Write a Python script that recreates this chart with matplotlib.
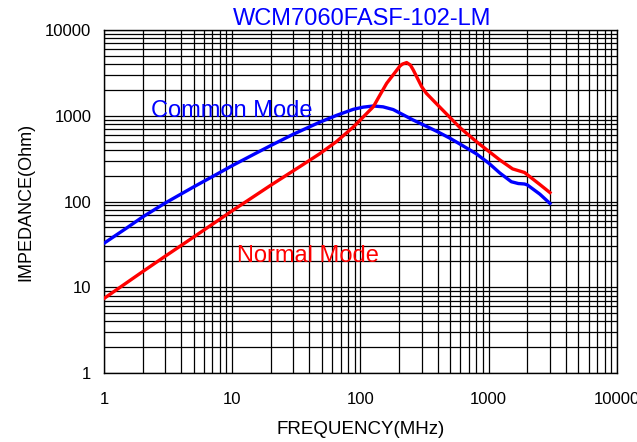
import matplotlib
matplotlib.use("Agg")
import matplotlib.pyplot as plt
from matplotlib.ticker import LogLocator, FixedLocator, FixedFormatter, NullFormatter

plt.rcParams['font.family'] = ['Liberation Sans', 'DejaVu Sans']

title = "WCM7060FASF-102-LM"

# Common mode impedance (MHz, Ohm)
cm_freq = [1, 1.5, 2, 3, 5, 7, 10, 15, 20, 30, 48, 65, 88, 105, 126, 150, 180,
           258, 300, 400, 500, 600, 800, 1000, 1220, 1500, 1700, 1900, 2000,
           2500, 3000]
cm_imp = [32.6, 49, 66, 96, 148, 195, 262, 360, 450, 610, 840, 1010, 1190, 1260,
          1300, 1270, 1180, 890, 800, 650, 545, 465, 360, 280, 215, 170, 162, 160,
          156, 122, 95]

# Normal (differential) mode impedance (MHz, Ohm)
nm_freq = [1, 2, 3, 5, 10, 20, 35, 48, 65, 88, 126, 145, 160, 203, 212, 229, 245,
           258, 300, 326, 400, 500, 600, 800, 1000, 1220, 1535, 1900, 2000, 2500,
           3000]
nm_imp = [7.4, 15.2, 23, 38.5, 78, 155, 265, 360, 500, 740, 1276, 1850, 2390, 3800,
          4000, 4170, 3900, 3415, 2180, 1828, 1334, 950, 720, 500, 385, 305, 240,
          218, 205, 158, 127]

x_ticks = [1, 10, 100, 1000, 10000]
x_tick_labels = ["1", "10", "100", "1000", "10000"]
y_ticks = [1, 10, 100, 1000, 10000]
y_tick_labels = ["1", "10", "100", "1000", "10000"]

fig = plt.figure(figsize=(6.37, 4.42), dpi=100)
ax = fig.add_axes([104 / 637, 1 - 373 / 442, (617 - 104) / 637, (373 - 30) / 442])

ax.set_xscale('log')
ax.set_yscale('log')
ax.set_xlim(1, 10000)
ax.set_ylim(1, 10000)

ax.xaxis.set_major_locator(FixedLocator(x_ticks))
ax.xaxis.set_major_formatter(FixedFormatter(x_tick_labels))
ax.yaxis.set_major_locator(FixedLocator(y_ticks))
ax.yaxis.set_major_formatter(FixedFormatter(y_tick_labels))
ax.xaxis.set_minor_locator(LogLocator(base=10, subs=range(2, 10), numticks=20))
ax.yaxis.set_minor_locator(LogLocator(base=10, subs=range(2, 10), numticks=20))
ax.xaxis.set_minor_formatter(NullFormatter())
ax.yaxis.set_minor_formatter(NullFormatter())

ax.grid(True, which='both', color='black', linewidth=0.9)
ax.set_axisbelow(True)
ax.tick_params(which='both', length=0)
ax.tick_params(axis='x', pad=14, labelsize=12)
ax.tick_params(axis='y', pad=9, labelsize=12)
for s in ax.spines.values():
    s.set_color('black')
    s.set_linewidth(1.0)

ax.plot(cm_freq, cm_imp, color='#0000ff', linewidth=2.4, solid_joinstyle='round', zorder=3)
ax.plot(nm_freq, nm_imp, color='#ff0000', linewidth=2.4, solid_joinstyle='round', zorder=3)

ax.text(2.31, 975, "Common Mode", color='#0000ff', fontsize=17, ha='left', va='baseline', zorder=4)
ax.text(10.8, 19.9, "Normal Mode", color='#ff0000', fontsize=17, ha='left', va='baseline', zorder=4)

fig.text(362 / 637, 1 - 25 / 442, title, color='#0000ff', fontsize=17, ha='center', va='baseline')

ax.set_xlabel("FREQUENCY(MHz)", fontsize=13.5, labelpad=10)
ax.set_ylabel("IMPEDANCE(Ohm)", fontsize=13, labelpad=8)

fig.savefig("out.png", dpi=100)
